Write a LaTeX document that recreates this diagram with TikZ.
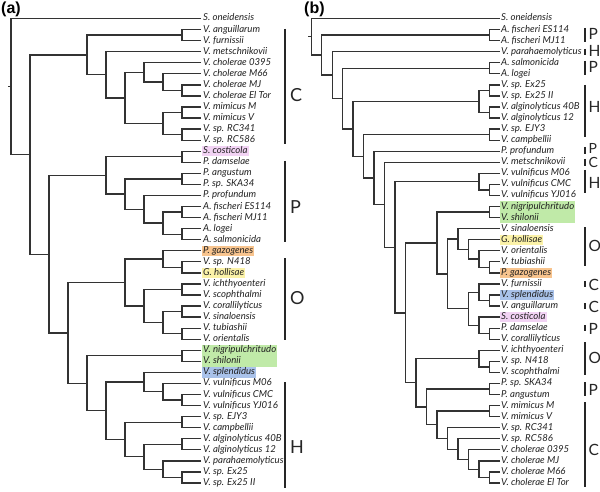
\documentclass[tikz,border=0pt]{standalone}
\usepackage{fontspec}
\setmainfont{Lato}
\newfontfamily\panelfont{Liberation Sans}
\usetikzlibrary{calc,backgrounds}
\definecolor{lncol}{HTML}{333333}
\definecolor{txtcol}{HTML}{222222}
\definecolor{hlpink}{HTML}{F2D3F4}
\definecolor{hlorange}{HTML}{F8C48E}
\definecolor{hlyellow}{HTML}{FBF2A8}
\definecolor{hlgreen}{HTML}{C0EAA8}
\definecolor{hlblue}{HTML}{A9C2EA}
\tikzset{
 br/.style={draw=lncol, line width=1.3pt},
 lbl/.style={anchor=west, inner xsep=1pt, inner ysep=0.5pt, text height=7pt, text depth=2pt, font=\fontsize{9.6}{11}\selectfont\itshape, text=txtcol},
 grpbar/.style={draw=black!85, line width=2.6pt},
 grpA/.style={anchor=west, inner sep=0pt, text height=13pt, text depth=0pt, font=\fontsize{18}{18}\selectfont, text=black!85},
 grpB/.style={anchor=west, inner sep=0pt, text height=10pt, text depth=0pt, font=\fontsize{15.5}{16}\selectfont, text=black!85},
 grpBs/.style={grpB, text height=9pt, font=\fontsize{14}{14}\selectfont},
 panel/.style={anchor=base west, inner sep=0pt, font=\panelfont\bfseries\fontsize{16}{16}\selectfont},
}
\newcommand\tnA[4]{\path let \p1=($(#2)!0.5!(#3)$) in coordinate (#1) at ({(201-19*#4)*1pt},\y1);
 \draw[br] (#2) -| (#1) |- (#3);}
\newcommand\tnB[4]{\path let \p1=($(#2)!0.5!(#3)$) in coordinate (#1) at ({(500-10.49*#4)*1pt},\y1);
 \draw[br] (#2) -| (#1) |- (#3);}
\begin{document}
\begin{tikzpicture}
\useasboundingbox (0,0) rectangle (600pt,-492pt);
% ---------- panel (a) leaves ----------
\foreach \i/\t in {0/S. oneidensis,1/V. anguillarum,2/V. furnissii,3/V. metschnikovii,4/V. cholerae 0395,5/V. cholerae M66,6/V. cholerae MJ,7/V. cholerae El Tor,8/V. mimicus M,9/V. mimicus V,10/V. sp. RC341,11/V. sp. RC586,12/S. costicola,13/P. damselae,14/P. angustum,15/P. sp. SKA34,16/P. profundum,17/A. fischeri ES114,18/A. fischeri MJ11,19/A. logei,20/A. salmonicida,21/P. gazogenes,22/V. sp. N418,23/G. hollisae,24/V. ichthyoenteri,25/V. scophthalmi,26/V. corallilyticus,27/V. sinaloensis,28/V. tubiashii,29/V. orientalis,30/V. nigripulchritudo,31/V. shilonii,32/V. splendidus,33/V. vulnificus M06,34/V. vulnificus CMC,35/V. vulnificus YJ016,36/V. sp. EJY3,37/V. campbellii,38/V. alginolyticus 40B,39/V. alginolyticus 12,40/V. parahaemolyticus,41/V. sp. Ex25,42/V. sp. Ex25 II}{
 \coordinate (ta\i) at (201pt,{-(18.5+11.06*\i)*1pt});
 \node[lbl] (la\i) at ([xshift=1pt]ta\i) {\t};
}
% ---------- panel (b) leaves ----------
\foreach \i/\t in {0/S. oneidensis,1/A. fischeri ES114,2/A. fischeri MJ11,3/V. parahaemolyticus,4/A. salmonicida,5/A. logei,6/V. sp. Ex25,7/V. sp. Ex25 II,8/V. alginolyticus 40B,9/V. alginolyticus 12,10/V. sp. EJY3,11/V. campbellii,12/P. profundum,13/V. metschnikovii,14/V. vulnificus M06,15/V. vulnificus CMC,16/V. vulnificus YJ016,17/V. nigripulchritudo,18/V. shilonii,19/V. sinaloensis,20/G. hollisae,21/V. orientalis,22/V. tubiashii,23/P. gazogenes,24/V. furnissii,25/V. splendidus,26/V. anguillarum,27/S. costicola,28/P. damselae,29/V. corallilyticus,30/V. ichthyoenteri,31/V. sp. N418,32/V. scophthalmi,33/P. sp. SKA34,34/P. angustum,35/V. mimicus M,36/V. mimicus V,37/V. sp. RC341,38/V. sp. RC586,39/V. cholerae 0395,40/V. cholerae MJ,41/V. cholerae M66,42/V. cholerae El Tor}{
 \coordinate (tb\i) at (500pt,{-(18.5+11.06*\i)*1pt});
 \node[lbl] (lb\i) at (tb\i) {\t};
}
% ---------- panel (a) tree ----------
\tnA{a1}{ta1}{ta2}{1}
\tnA{a2}{ta6}{ta7}{1}
\tnA{a3}{ta5}{a2}{2}
\tnA{a4}{ta4}{a3}{3}
\tnA{a5}{ta8}{ta9}{1}
\tnA{a6}{ta10}{ta11}{1}
\tnA{a7}{a5}{a6}{2}
\tnA{a8}{a4}{a7}{4}
\tnA{a9}{ta3}{a8}{5}
\tnA{a10}{a1}{a9}{6}
\tnA{a11}{ta12}{ta13}{1}
\tnA{a12}{ta14}{ta15}{1}
\tnA{a13}{ta17}{ta18}{1}
\tnA{a14}{ta19}{ta20}{1}
\tnA{a15}{a13}{a14}{2}
\tnA{a16}{ta16}{a15}{3}
\tnA{a17}{a12}{a16}{4}
\tnA{a18}{a11}{a17}{5}
\tnA{a19}{ta22}{ta23}{1}
\tnA{a20}{ta21}{a19}{2}
\tnA{a21}{ta24}{ta25}{1}
\tnA{a22}{ta26}{ta27}{1}
\tnA{a23}{ta28}{ta29}{1}
\tnA{a24}{a22}{a23}{2}
\tnA{a25}{a21}{a24}{3}
\tnA{a26}{a20}{a25}{4}
\tnA{a27}{ta30}{ta31}{1}
\tnA{a28}{ta34}{ta35}{1}
\tnA{a29}{ta33}{a28}{2}
\tnA{a30}{ta32}{a29}{3}
\tnA{a31}{ta36}{ta37}{1}
\tnA{a32}{ta38}{ta39}{1}
\tnA{a33}{ta41}{ta42}{1}
\tnA{a34}{ta40}{a33}{2}
\tnA{a35}{a32}{a34}{3}
\tnA{a36}{a31}{a35}{4}
\tnA{a37}{a30}{a36}{5}
\tnA{a38}{a27}{a37}{6}
\tnA{a39}{a26}{a38}{7}
\tnA{a40}{a18}{a39}{8}
\tnA{a41}{a10}{a40}{9}
\tnA{a42}{ta0}{a41}{10}
\coordinate (rsa) at ($(a42)+(-3pt,0)$);
\draw[br] (a42) -- (rsa);
% ---------- panel (b) tree ----------
\tnB{b1}{tb1}{tb2}{1}
\tnB{b2}{tb4}{tb5}{1}
\tnB{b3}{tb6}{tb7}{1}
\tnB{b4}{tb8}{tb9}{1}
\tnB{b5}{b3}{b4}{2}
\tnB{b6}{tb10}{tb11}{1}
\tnB{b7}{tb15}{tb16}{1}
\tnB{b8}{tb14}{b7}{2}
\tnB{b9}{tb17}{tb18}{1}
\tnB{b10}{tb22}{tb23}{1}
\tnB{b11}{tb21}{b10}{2}
\tnB{b12}{tb20}{b11}{3}
\tnB{b13}{tb19}{b12}{4}
\tnB{b14}{tb25}{tb26}{1}
\tnB{b15}{tb24}{b14}{2}
\tnB{b16}{tb28}{tb29}{1}
\tnB{b17}{tb27}{b16}{2}
\tnB{b18}{b15}{b17}{3}
\tnB{b19}{b13}{b18}{5}
\tnB{b20}{b9}{b19}{6}
\tnB{b21}{tb31}{tb32}{1}
\tnB{b22}{tb30}{b21}{2}
\tnB{b23}{tb33}{tb34}{1}
\tnB{b24}{tb35}{tb36}{1}
\tnB{b25}{tb41}{tb42}{1}
\tnB{b26}{tb40}{b25}{2}
\tnB{b27}{tb39}{b26}{3}
\tnB{b28}{tb38}{b27}{4}
\tnB{b29}{tb37}{b28}{5}
\tnB{b30}{b24}{b29}{6}
\tnB{b31}{b23}{b30}{7}
\tnB{b32}{b22}{b31}{8}
\tnB{b33}{b20}{b32}{9}
\tnB{b34}{b8}{b33}{10}
\tnB{b35}{tb13}{b34}{11}
\tnB{b36}{tb12}{b35}{12}
\tnB{b37}{b6}{b36}{13}
\tnB{b38}{b5}{b37}{14}
\tnB{b39}{b2}{b38}{15}
\tnB{b40}{tb3}{b39}{16}
\tnB{b41}{b1}{b40}{17}
\tnB{b42}{tb0}{b41}{18}
\coordinate (rsb) at ($(b42)+(-3pt,0)$);
\draw[br] (b42) -- (rsb);
% ---------- highlights ----------
\begin{scope}[on background layer]
\fill[white] (0,0) rectangle (600pt,-492pt);
\fill[hlpink] (la12.south west) rectangle (la12.north east);
\fill[hlorange] (la21.south west) rectangle (la21.north east);
\fill[hlyellow] (la23.south west) rectangle (la23.north east);
\fill[hlgreen] (la30.north west) rectangle (la30.east |- la31.south);
\fill[hlblue] (la32.south west) rectangle (la32.north east);
\fill[hlgreen] (lb17.north west) rectangle (lb17.east |- lb18.south);
\fill[hlyellow] (lb20.south west) rectangle (lb20.north east);
\fill[hlorange] (lb23.south west) rectangle (lb23.north east);
\fill[hlblue] (lb25.south west) rectangle (lb25.north east);
\fill[hlpink] (lb27.south west) rectangle (lb27.north east);
\end{scope}
% ---------- group bars (a) ----------
\draw[grpbar] (285pt,-29pt) -- (285pt,-144pt);
\node[grpA] (gaC) at (290pt,-95pt) {C};
\draw[grpbar] (285pt,-161pt) -- (285pt,-242pt);
\node[grpA] (gaP) at (290pt,-207pt) {P};
\draw[grpbar] (285pt,-258pt) -- (285pt,-340pt);
\node[grpA] (gaO) at (290pt,-298pt) {O};
\draw[grpbar] (285pt,-382pt) -- (285pt,-488pt);
\node[grpA] (gaH) at (290pt,-447pt) {H};
% ---------- group bars (b) ----------
\draw[grpbar] (585pt,-28pt) -- (585pt,-42pt);
\node[grpB] (gbP1) at (588.5pt,-35pt) {P};
\draw[grpbar] (585pt,-49pt) -- (585pt,-55pt);
\node[grpB] (gbH1) at (588.5pt,-52pt) {H};
\draw[grpbar] (585pt,-61pt) -- (585pt,-75pt);
\node[grpB] (gbP2) at (588.5pt,-68pt) {P};
\draw[grpbar] (585pt,-85pt) -- (585pt,-137pt);
\node[grpB] (gbH2) at (588.5pt,-108pt) {H};
\draw[grpbar] (585pt,-147pt) -- (585pt,-154pt);
\node[grpBs] (gbP3) at (588.5pt,-149.5pt) {P};
\draw[grpbar] (585pt,-159pt) -- (585pt,-166pt);
\node[grpBs] (gbC1) at (588.5pt,-163pt) {C};
\draw[grpbar] (585pt,-170pt) -- (585pt,-193pt);
\node[grpB] (gbH3) at (588.5pt,-184pt) {H};
\draw[grpbar] (585pt,-227pt) -- (585pt,-266pt);
\node[grpB] (gbO1) at (588.5pt,-246pt) {O};
\draw[grpbar] (585pt,-281pt) -- (585pt,-287pt);
\node[grpB] (gbC2) at (588.5pt,-285pt) {C};
\draw[grpbar] (585pt,-303pt) -- (585pt,-309pt);
\node[grpB] (gbC3) at (588.5pt,-307pt) {C};
\draw[grpbar] (585pt,-325pt) -- (585pt,-331pt);
\node[grpB] (gbP4) at (588.5pt,-329pt) {P};
\draw[grpbar] (585pt,-342pt) -- (585pt,-375pt);
\node[grpB] (gbO2) at (588.5pt,-358pt) {O};
\draw[grpbar] (585pt,-382pt) -- (585pt,-396pt);
\node[grpB] (gbP5) at (588.5pt,-390pt) {P};
\draw[grpbar] (585pt,-402pt) -- (585pt,-487pt);
\node[grpB] (gbC4) at (588.5pt,-450pt) {C};
% ---------- panel labels ----------
\node[panel] (pa) at (1pt,-14pt) {(a)};
\node[panel] (pb) at (304pt,-14pt) {(b)};
\end{tikzpicture}
\end{document}
